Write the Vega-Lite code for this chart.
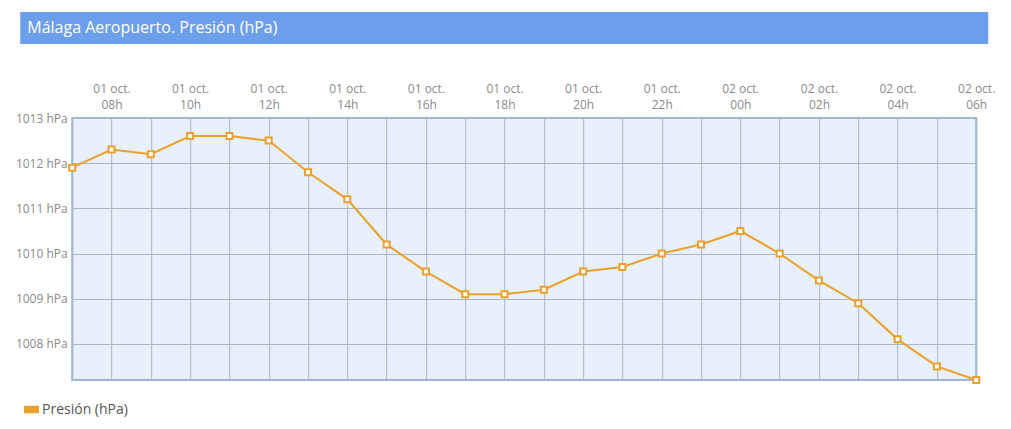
{
  "$schema": "https://vega.github.io/schema/vega-lite/v6.json",
  "background": "white",
  "padding": {"left": 14, "top": 12, "right": 5, "bottom": 5},
  "spacing": 37,
  "center": true,
  "config": {"font": "Open Sans", "view": {"stroke": null}},
  "vconcat": [
    {
      "width": 968,
      "height": 32,
      "view": {"fill": "#6d9eeb", "stroke": null},
      "data": {"values": [{"titulo": "", "v": 0.5}]},
      "title": {
        "text": "Málaga Aeropuerto. Presión (hPa)",
        "anchor": "start",
        "frame": "group",
        "orient": "top",
        "offset": -24,
        "dx": 7,
        "color": "white",
        "fontSize": 16,
        "fontWeight": "normal",
        "font": "Open Sans"
      },
      "mark": {"type": "text"},
      "encoding": {
        "text": {"field": "titulo"},
        "y": {
          "field": "v",
          "type": "quantitative",
          "scale": {"domain": [0, 1]},
          "axis": {
            "orient": "right",
            "title": null,
            "labels": false,
            "domain": false,
            "grid": false,
            "ticks": true,
            "tickSize": 59,
            "tickColor": "transparent",
            "values": [0.5]
          }
        }
      }
    },
    {
      "data": {"values": [
          {"hora": "01 oct.|07h", "valor": 1011.9, "serie": "Presión (hPa)"},
          {"hora": "01 oct.|08h", "valor": 1012.3, "serie": "Presión (hPa)"},
          {"hora": "01 oct.|09h", "valor": 1012.2, "serie": "Presión (hPa)"},
          {"hora": "01 oct.|10h", "valor": 1012.6, "serie": "Presión (hPa)"},
          {"hora": "01 oct.|11h", "valor": 1012.6, "serie": "Presión (hPa)"},
          {"hora": "01 oct.|12h", "valor": 1012.5, "serie": "Presión (hPa)"},
          {"hora": "01 oct.|13h", "valor": 1011.8, "serie": "Presión (hPa)"},
          {"hora": "01 oct.|14h", "valor": 1011.2, "serie": "Presión (hPa)"},
          {"hora": "01 oct.|15h", "valor": 1010.2, "serie": "Presión (hPa)"},
          {"hora": "01 oct.|16h", "valor": 1009.6, "serie": "Presión (hPa)"},
          {"hora": "01 oct.|17h", "valor": 1009.1, "serie": "Presión (hPa)"},
          {"hora": "01 oct.|18h", "valor": 1009.1, "serie": "Presión (hPa)"},
          {"hora": "01 oct.|19h", "valor": 1009.2, "serie": "Presión (hPa)"},
          {"hora": "01 oct.|20h", "valor": 1009.6, "serie": "Presión (hPa)"},
          {"hora": "01 oct.|21h", "valor": 1009.7, "serie": "Presión (hPa)"},
          {"hora": "01 oct.|22h", "valor": 1010.0, "serie": "Presión (hPa)"},
          {"hora": "01 oct.|23h", "valor": 1010.2, "serie": "Presión (hPa)"},
          {"hora": "02 oct.|00h", "valor": 1010.5, "serie": "Presión (hPa)"},
          {"hora": "02 oct.|01h", "valor": 1010.0, "serie": "Presión (hPa)"},
          {"hora": "02 oct.|02h", "valor": 1009.4, "serie": "Presión (hPa)"},
          {"hora": "02 oct.|03h", "valor": 1008.9, "serie": "Presión (hPa)"},
          {"hora": "02 oct.|04h", "valor": 1008.1, "serie": "Presión (hPa)"},
          {"hora": "02 oct.|05h", "valor": 1007.5, "serie": "Presión (hPa)"},
          {"hora": "02 oct.|06h", "valor": 1007.2, "serie": "Presión (hPa)"}
      ]},
      "width": 904,
      "height": 262,
      "view": {"fill": "#e8f0fb", "stroke": "#9cb5df", "strokeWidth": 2},
      "encoding": {
        "x": {
          "field": "hora",
          "type": "ordinal",
          "sort": null,
          "scale": {"type": "point", "padding": 0},
          "axis": {
            "orient": "top",
            "title": null,
            "domain": false,
            "ticks": false,
            "grid": true,
            "gridColor": "#a9b5cb",
            "labelAngle": 0,
            "labelExpr": "toNumber(slice(datum.value, 8, 10)) % 2 == 0 ? split(datum.value, '|') : ''",
            "labelOverlap": false,
            "labelBound": false,
            "labelFlush": false,
            "labelColor": "#8a8a8a",
            "labelFontSize": 12,
            "labelLineHeight": 16,
            "labelPadding": 23
          }
        },
        "y": {
          "field": "valor",
          "type": "quantitative",
          "scale": {"domain": [1007.2, 1013], "nice": false, "zero": false},
          "axis": {
            "title": null,
            "domain": false,
            "ticks": false,
            "grid": true,
            "gridColor": "#a9b5cb",
            "values": [1008, 1009, 1010, 1011, 1012, 1013],
            "labelExpr": "datum.value + ' hPa'",
            "labelColor": "#8a8a8a",
            "labelFontSize": 12,
            "labelPadding": 5
          }
        },
        "color": {
          "field": "serie",
          "type": "nominal",
          "scale": {"range": ["#eba02c"]},
          "legend": {
            "title": null,
            "orient": "none",
            "legendX": 4,
            "legendY": 390,
            "symbolType": "M-1,-0.5H1V0.5H-1Z",
            "symbolSize": 225,
            "symbolStrokeWidth": 0,
            "labelFontSize": 14,
            "labelColor": "#555555",
            "labelOffset": 3
          }
        }
      },
      "layer": [
        {"mark": {"type": "line", "strokeWidth": 2, "clip": false}},
        {
          "mark": {"type": "point", "shape": "square", "filled": true, "fill": "white", "stroke": "#eba02c", "strokeWidth": 2, "size": 36, "opacity": 1, "clip": false}
        }
      ]
    }
  ]
}
